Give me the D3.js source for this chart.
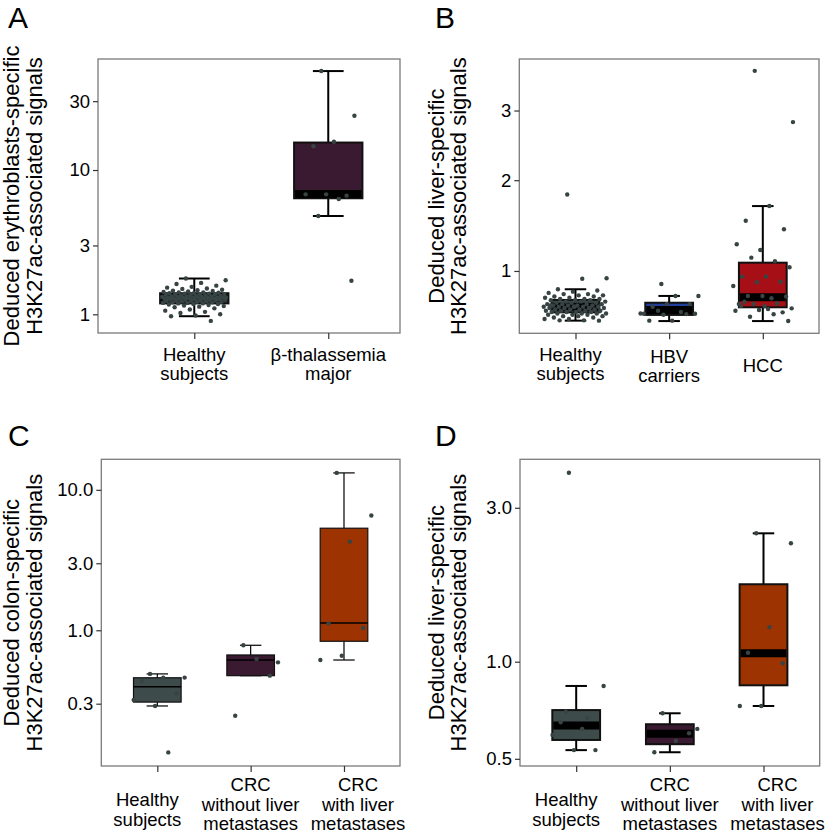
<!DOCTYPE html>
<html><head><meta charset="utf-8">
<script src="https://cdn.jsdelivr.net/npm/d3@7/dist/d3.min.js"></script>
<style>
body{margin:0;background:#fff;}
svg{display:block;font-family:"Liberation Sans",Arial,Helvetica,sans-serif;}
</style></head>
<body><svg id="chart" width="827" height="838"></svg>
<script>
// ---------------- DATA ----------------
// Panel A
const catsA = [["Healthy","subjects"],["β-thalassemia","major"]];
const statsA = [ // [whiskerLow, q1, median, q3, whiskerHigh]
  [0.97, 1.19, 1.30, 1.40, 1.77],
  [4.8, 6.37, 6.82, 15.5, 48.5]
];
const ptsA_healthy = [1.77,1.72,1.65,1.62,1.58,1.55,1.53,1.51,1.50,1.48,1.47,1.46,1.45,1.44,1.43,1.42,1.42,1.41,1.40,1.40,1.39,1.39,1.38,1.38,1.37,1.37,1.36,1.36,1.35,1.35,1.34,1.34,1.33,1.33,1.33,1.32,1.32,1.32,1.31,1.31,1.31,1.30,1.30,1.30,1.30,1.29,1.29,1.29,1.28,1.28,1.28,1.27,1.27,1.27,1.26,1.26,1.26,1.25,1.25,1.25,1.24,1.24,1.23,1.23,1.22,1.22,1.21,1.21,1.20,1.20,1.19,1.19,1.18,1.18,1.17,1.16,1.15,1.14,1.13,1.12,1.10,1.08,1.06,1.04,1.02,1.00,0.98,0.97,0.90,1.30,1.31];
const ptsA_thal = [48.5,23.8,15.7,14.6,6.64,6.78,6.78,6.29,4.8,1.71];
const ticksA = [1,3,10,30];

// Panel B
const catsB = [["Healthy","subjects"],["HBV","carriers"],["HCC"]];
const statsB = [
  [0.598, 0.658, 0.700, 0.753, 0.84],
  [0.595, 0.639, 0.675, 0.731, 0.785],
  [0.595, 0.696, 0.775, 1.077, 1.68]
];
const ptsB_healthy = [1.82,0.935,0.93,0.84,0.83,0.82,0.81,0.80,0.80,0.79,0.79,0.78,0.78,0.77,0.77,0.76,0.76,0.76,0.75,0.75,0.75,0.74,0.74,0.74,0.73,0.73,0.73,0.72,0.72,0.72,0.72,0.71,0.71,0.71,0.71,0.70,0.70,0.70,0.70,0.70,0.69,0.69,0.69,0.69,0.68,0.68,0.68,0.68,0.67,0.67,0.67,0.67,0.66,0.66,0.66,0.66,0.65,0.65,0.65,0.65,0.64,0.64,0.64,0.63,0.63,0.63,0.62,0.62,0.61,0.61,0.60,0.60,0.598,0.70,0.71,0.69];
const ptsB_hbv = [0.885,0.785,0.785,0.70,0.72,0.72,0.648,0.66,0.67,0.648,0.598,0.598,0.645,0.64,0.65];
const ptsB_hcc = [3.66,2.82,1.68,1.51,1.417,1.20,1.259,1.09,1.125,1.034,0.949,0.949,0.905,0.90,0.868,0.766,0.785,0.78,0.785,0.721,0.725,0.721,0.688,0.683,0.739,0.658,0.675,0.67,0.644,0.626,0.595,0.705,0.705];
const ticksB = [1,2,3];

// Panel C
const catsC = [["Healthy","subjects"],["CRC","without liver","metastases"],["CRC","with liver","metastases"]];
const statsC = [
  [0.289, 0.308, 0.396, 0.459, 0.489],
  [0.475, 0.475, 0.614, 0.667, 0.782],
  [0.614, 0.835, 1.127, 5.33, 13.2]
];
const ptsC_healthy = [0.489,0.46,0.46,0.437,0.356,0.289,0.319,0.135];
const ptsC_without = [0.782,0.591,0.625,0.246,0.475];
const ptsC_with = [13.2,6.56,4.28,1.12,1.04,0.659,0.614];
const ticksC = [0.3,1,3,10];

// Panel D
const catsD = [["Healthy","subjects"],["CRC","without liver","metastases"],["CRC","with liver","metastases"]];
const statsD = [
  [0.532, 0.572, 0.634, 0.708, 0.841],
  [0.524, 0.555, 0.598, 0.640, 0.692],
  [0.729, 0.845, 1.063, 1.738, 2.50]
];
const ptsD_healthy = [3.85,0.841,0.619,0.649,0.532,0.532,0.593,0.668,0.70];
const ptsD_without = [0.692,0.619,0.568,0.524,0.60];
const ptsD_with = [2.50,2.33,1.28,1.066,0.989,0.729,0.729];
const ticksD = [0.5,1,3];

// ---------------- STYLE / LAYOUT ----------------
const C_GRAY="#3e4b4b", C_PURP="#3a1a30", C_RED="#a50f15", C_ORNG="#9c3300", C_BLUE="#1f3f9a", C_PT="#374443";

const panels = [
  {letter:"A", lx:8, ly:28, x0:98, x1:400, y0:59, y1:333, type:"log", domain:[0.742,58.8],
   cats:catsA, stats:statsA, pts:[ptsA_healthy, ptsA_thal], fills:[C_GRAY,C_PURP], ticks:ticksA, fmt:d3.format("~g"),
   pad:0.627, align:0.573, jit:[0.24,0.2], thick:true,
   title:["Deduced erythroblasts-specific","H3K27ac-associated signals"], tx:[19,41.7],
   lh:19, lcenter:370.8, ldx:[0,0], ldy:[0,0]},
  {letter:"B", lx:435, ly:28, x0:519.3, x1:819, y0:59, y1:333.3, type:"sqrt", domain:[0.512,3.87],
   cats:catsB, stats:statsB, pts:[ptsB_healthy, ptsB_hbv, ptsB_hcc], fills:[C_GRAY,C_BLUE,C_RED], ticks:ticksB, fmt:d3.format("d"),
   pad:0.6, align:0.5, jit:[0.34,0.32,0.33], thick:true,
   title:["Deduced liver-specific","H3K27ac-associated signals"], tx:[444,465.7],
   lh:19, lcenter:370.8, ldx:[-5,0,0], ldy:[0,1.3,1.0]},
  {letter:"C", lx:8, ly:446, x0:101.3, x1:400, y0:459.3, y1:766, type:"log", domain:[0.108,16.5],
   cats:catsC, stats:statsC, pts:[ptsC_healthy, ptsC_without, ptsC_with], fills:[C_GRAY,C_PURP,C_ORNG], ticks:ticksC, fmt:d3.format(".1f"),
   pad:0.6, align:0.5, jit:[0.3,0.3,0.3], thick:false,
   title:["Deduced colon-specific","H3K27ac-associated signals"], tx:[19.3,41.7],
   lh:19.3, lcenter:810.5, ldx:[-10,0,14], ldy:[5.4,0,0]},
  {letter:"D", lx:435, ly:446, x0:520, x1:819.7, y0:459.3, y1:766, type:"log", domain:[0.475,4.24],
   cats:catsD, stats:statsD, pts:[ptsD_healthy, ptsD_without, ptsD_with], fills:[C_GRAY,C_PURP,C_ORNG], ticks:ticksD, fmt:d3.format(".1f"),
   pad:0.6, align:0.5, jit:[0.3,0.3,0.3], thick:true,
   title:["Deduced liver-specific","H3K27ac-associated signals"], tx:[444,465.7],
   lh:19.3, lcenter:810.5, ldx:[-10,0,14], ldy:[5.4,0,0]}
];

const svg = d3.select("#chart");
const FS = 18.5, FT = 22;

panels.forEach(p => {
  const g = svg.append("g");
  const idx = p.cats.map((c,i)=>i);
  const x = d3.scalePoint().domain(idx).range([p.x0,p.x1]).padding(p.pad).align(p.align);
  const step = x.step();
  const y = (p.type==="log" ? d3.scaleLog() : d3.scaleSqrt()).domain(p.domain).range([p.y1,p.y0]);
  const bw = step*0.51;

  // panel letter
  g.append("text").attr("x",p.lx).attr("y",p.ly).attr("font-size",30).attr("fill","#000").text(p.letter);

  // boxes
  const boxLW = p.thick?2:1.2;
  p.stats.forEach((s,i)=>{
    const cx = x(i);
    const [lo,q1,med,q3,hi] = s;
    g.append("line").attr("x1",cx).attr("x2",cx).attr("y1",y(hi)).attr("y2",y(q3)).attr("stroke","#000").attr("stroke-width",boxLW);
    g.append("line").attr("x1",cx).attr("x2",cx).attr("y1",y(q1)).attr("y2",y(lo)).attr("stroke","#000").attr("stroke-width",boxLW);
    const cw = bw*0.45;
    g.append("line").attr("x1",cx-cw/2).attr("x2",cx+cw/2).attr("y1",y(hi)).attr("y2",y(hi)).attr("stroke","#000").attr("stroke-width",boxLW);
    g.append("line").attr("x1",cx-cw/2).attr("x2",cx+cw/2).attr("y1",y(lo)).attr("y2",y(lo)).attr("stroke","#000").attr("stroke-width",boxLW);
    g.append("rect").attr("x",cx-bw/2).attr("width",bw).attr("y",y(q3)).attr("height",y(q1)-y(q3))
      .attr("fill",p.fills[i]).attr("stroke","#111").attr("stroke-width",boxLW);
    g.append("line").attr("x1",cx-bw/2+(p.thick?1:0)).attr("x2",cx+bw/2-(p.thick?1:0)).attr("y1",y(med)).attr("y2",y(med))
      .attr("stroke","#000").attr("stroke-width",p.thick?8:1.3);
  });

  // points
  p.pts.forEach((arr,i)=>{
    const cx = x(i);
    const jw = p.jit[i]*step;
    g.selectAll(null).data(arr).enter().append("circle")
      .attr("cx",(d,k)=> cx + (((k*0.61803398875+0.37)%1)-0.5)*2*jw)
      .attr("cy",d=>y(d)).attr("r",2.2).attr("fill",C_PT);
  });

  // border
  g.append("rect").attr("x",p.x0).attr("y",p.y0).attr("width",p.x1-p.x0).attr("height",p.y1-p.y0)
    .attr("fill","none").attr("stroke","#7a7a7a").attr("stroke-width",1.3);

  // y axis
  const ya = g.append("g").attr("transform",`translate(${p.x0},0)`)
    .call(d3.axisLeft(y).tickValues(p.ticks).tickFormat(p.fmt).tickSize(5).tickPadding(3));
  ya.select(".domain").remove();
  ya.selectAll(".tick line").attr("stroke","#333").attr("stroke-width",1.2);
  ya.selectAll(".tick text").attr("font-size",FS).attr("fill","#000").attr("font-family","Liberation Sans, Arial, sans-serif");

  // x axis ticks
  const xa = g.append("g").attr("transform",`translate(0,${p.y1})`)
    .call(d3.axisBottom(x).tickSize(6).tickFormat(""));
  xa.select(".domain").remove();
  xa.selectAll(".tick line").attr("stroke","#333").attr("stroke-width",1.2);

  // x labels (multi-line, y = baseline)
  p.cats.forEach((lines,i)=>{
    const n = lines.length;
    const t = g.append("text").attr("text-anchor","middle").attr("font-size",FS).attr("fill","#000");
    lines.forEach((ln,k)=>{
      t.append("tspan").attr("x",x(i)+p.ldx[i])
        .attr("y", p.lcenter + p.ldy[i] + (k-(n-1)/2)*p.lh)
        .text(ln);
    });
  });

  // y title
  const cy = (p.y0+p.y1)/2;
  p.title.forEach((ln,k)=>{
    g.append("text").attr("transform",`translate(${p.tx[k]},${cy}) rotate(-90)`)
      .attr("text-anchor","middle").attr("font-size",FT).attr("fill","#000").text(ln);
  });
});
</script>
</body></html>
